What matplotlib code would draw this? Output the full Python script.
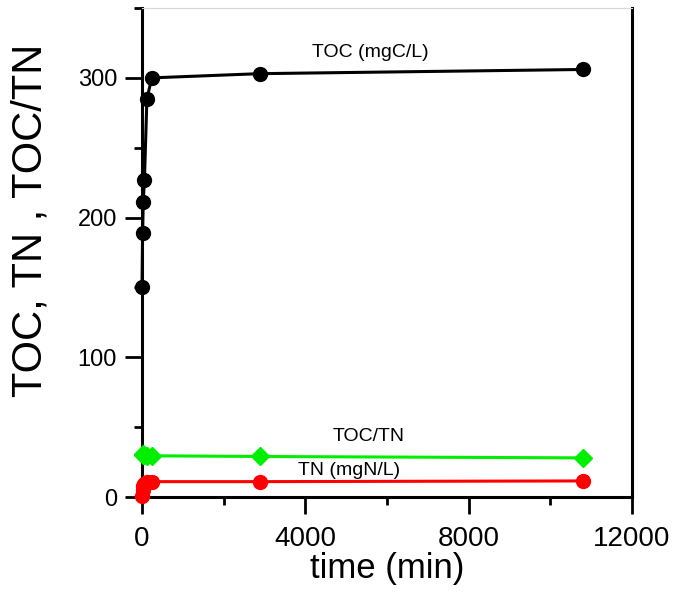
import matplotlib
matplotlib.use('Agg')
import matplotlib.pyplot as plt
from matplotlib.ticker import MultipleLocator

plt.rcParams['font.family'] = ['Liberation Sans', 'DejaVu Sans']

# time points (min)
time_toc = [0, 15, 30, 60, 120, 240, 2880, 10800]
toc = [150, 189, 211, 227, 285, 300, 303, 306]

time_tn = [0, 15, 30, 60, 120, 240, 2880, 10800]
tn = [0.5, 5, 8, 9.5, 10.5, 11, 11, 11.5]

time_ratio = [15, 30, 60, 120, 240, 2880, 10800]
ratio = [30, 30.5, 30, 29.5, 29.5, 29, 28]

x_ticks = [0, 4000, 8000, 12000]
y_ticks = [0, 100, 200, 300]

fig = plt.figure(figsize=(6.74, 5.93), dpi=100)
ax = fig.add_axes([142 / 674, 96 / 593, 490 / 674, 489 / 593])

ax.plot(time_toc, toc, '-o', color='black', lw=2.2, ms=10, clip_on=False, zorder=5)
ax.plot(time_ratio, ratio, '-D', color='#00ee00', lw=2.2, ms=9, clip_on=False, zorder=4)
ax.plot(time_tn, tn, '-o', color='#ff0000', lw=2.2, ms=10, clip_on=False, zorder=4)

ax.text(5600, 318, 'TOC (mgC/L)', fontsize=14, ha='center', va='center')
ax.text(5560, 43, 'TOC/TN', fontsize=14, ha='center', va='center')
ax.text(5070, 19, 'TN (mgN/L)', fontsize=14, ha='center', va='center')

ax.set_xlim(0, 12000)
ax.set_ylim(0, 350)
ax.set_xticks(x_ticks)
ax.set_yticks(y_ticks)
ax.xaxis.set_minor_locator(MultipleLocator(2000))
ax.yaxis.set_minor_locator(MultipleLocator(50))
ax.tick_params(which='major', length=12, width=2, direction='out')
ax.tick_params(which='minor', length=6, width=2, direction='out')
ax.tick_params(axis='x', which='major', labelsize=20, pad=9)
ax.tick_params(axis='y', which='major', labelsize=17, pad=6)
ax.tick_params(axis='y', right=False, which='both')

for side in ['left', 'right', 'bottom']:
    ax.spines[side].set_linewidth(2.2)
ax.spines['top'].set_linewidth(0.8)
ax.spines['top'].set_color('#d8d8d8')

ax.set_xlabel('time (min)', fontsize=25, labelpad=0)
# y label sits a bit above the axes centre in the original
fig.text(31 / 674, 1 - 220 / 593, 'TOC, TN , TOC/TN', fontsize=30,
         rotation=90, ha='center', va='center')

fig.savefig('out.png', dpi=100)
